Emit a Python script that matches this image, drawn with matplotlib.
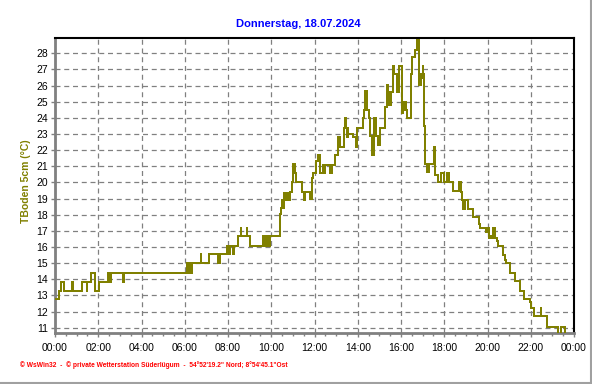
import matplotlib
matplotlib.use("Agg")
import matplotlib.pyplot as plt
from matplotlib.lines import Line2D
from matplotlib.ticker import MultipleLocator

plt.rcParams['font.family'] = ['Liberation Sans', 'DejaVu Sans']

# ---- data (hour of day, soil temperature 5cm, step changes) ----
hours = [0.00, 0.20, 0.30, 0.43, 0.77, 0.85, 1.26, 1.46, 1.50, 1.65, 1.87, 2.05, 2.47, 2.52, 2.58,
         3.16, 3.19, 6.09, 6.14, 6.18, 6.22, 6.26, 6.30, 6.35, 6.74, 6.77, 7.14, 7.55, 7.65, 7.97,
         8.00, 8.03, 8.06, 8.10, 8.22, 8.30, 8.46, 8.58, 8.62, 8.86, 8.90, 9.02, 9.63, 9.66, 9.69,
         9.82, 9.86, 9.88, 9.95, 10.40, 10.45, 10.50, 10.53, 10.57, 10.62, 10.66, 10.70, 10.74,
         10.80, 10.88, 10.94, 11.02, 11.09, 11.14, 11.41, 11.52, 11.55, 11.79, 11.87, 11.92, 12.07,
         12.18, 12.25, 12.41, 12.48, 12.50, 12.72, 12.80, 12.95, 13.07, 13.18, 13.35, 13.40, 13.45,
         13.48, 13.50, 13.52, 13.54, 13.56, 13.79, 13.90, 13.98, 14.23, 14.28, 14.33, 14.44, 14.53,
         14.57, 14.64, 14.75, 14.85, 14.95, 15.03, 15.26, 15.34, 15.38, 15.46, 15.50, 15.54, 15.65,
         15.69, 15.81, 15.93, 16.03, 16.11, 16.15, 16.19, 16.23, 16.26, 16.45, 16.53, 16.65, 16.76,
         16.85, 16.91, 16.97, 17.00, 17.04, 17.06, 17.09, 17.13, 17.20, 17.30, 17.51, 17.55, 17.58,
         17.70, 17.87, 18.00, 18.13, 18.18, 18.20, 18.23, 18.39, 18.70, 18.76, 18.80, 18.85, 18.96,
         19.10, 19.33, 19.60, 19.67, 19.95, 20.00, 20.08, 20.12, 20.20, 20.27, 20.35, 20.42, 20.50,
         20.72, 20.80, 20.85, 21.05, 21.25, 21.48, 21.70, 21.95, 21.99, 22.14, 22.46, 22.49, 22.77,
         23.28, 23.40, 23.58, 24.00]
temps = [12.75, 13.30, 13.85, 13.30, 13.85, 13.30, 13.85, 13.30, 13.85, 14.40, 13.30, 13.85, 14.40, 13.85, 14.40,
         13.85, 14.40, 15.00, 14.40, 15.00, 14.40, 15.00, 14.40, 15.00, 15.55, 15.00, 15.55, 15.00, 15.55, 16.05,
         15.55, 16.05, 15.55, 16.05, 15.55, 16.05, 16.65, 17.15, 16.65, 17.15, 16.65, 16.05, 16.65, 16.05, 16.65,
         16.05, 16.65, 16.05, 16.65, 18.05, 18.40, 18.90, 18.40, 19.35, 18.90, 19.35, 18.90, 19.35,
         18.90, 19.40, 20.00, 21.15, 20.60, 20.05, 19.40, 18.90, 19.40, 19.00, 20.30, 20.60, 21.35,
         21.70, 20.60, 21.05, 20.60, 21.05, 20.60, 21.05, 21.70, 22.80, 22.20, 23.40, 24.00, 23.40,
         22.80, 23.40, 22.80, 23.40, 23.00, 22.80, 22.20, 23.40, 24.00, 24.50, 25.65, 24.50, 24.00,
         22.85, 21.70, 24.00, 22.85, 22.30, 23.35, 24.70, 26.05, 24.80, 25.60, 24.80, 25.60, 27.20,
         26.70, 25.60, 27.20, 24.30, 25.00, 24.50, 25.00, 24.50, 24.00, 26.70, 27.80, 28.20, 28.85,
         26.05, 26.70, 26.50, 27.20, 26.70, 23.50, 21.70, 21.15, 20.65, 21.15, 22.20, 21.15, 20.45,
         20.00, 20.60, 20.00, 20.60, 20.00, 20.60, 20.00, 19.45, 20.00, 19.40, 18.90, 18.35, 18.90,
         18.35, 17.85, 17.40, 17.20, 16.95, 17.20, 16.55, 16.70, 16.55, 17.20, 16.55, 16.35, 16.05,
         15.50, 15.20, 15.00, 14.40, 13.90, 13.30, 12.75, 12.60, 12.20, 11.73, 12.20, 11.73, 11.07,
         10.60, 11.07, 10.60, 10.60]

x_ticks = [0, 2, 4, 6, 8, 10, 12, 14, 16, 18, 20, 22, 24]
x_labels = ["00:00", "02:00", "04:00", "06:00", "08:00", "10:00", "12:00",
            "14:00", "16:00", "18:00", "20:00", "22:00", "00:00"]
y_ticks = list(range(11, 29))

title = "Donnerstag, 18.07.2024"
ylabel = "TBoden 5cm (°C)"
footer = "\u00a9 WsWin32  -  \u00a9 private Wetterstation Süderlügum  -  54°52'19.2\" Nord; 8°54'45.1\"Ost"

# ---- figure ----
W, H = 592, 384
fig = plt.figure(figsize=(W / 100, H / 100), dpi=100)
fig.patch.set_facecolor('white')
ax = fig.add_axes([55 / W, 1 - 333 / H, (574 - 55) / W, (333 - 38) / H])

ax.plot(hours, temps, drawstyle='steps-post', color='#808000', lw=1.1,
        antialiased=False, zorder=3, clip_on=True)

ax.set_xlim(0, 24)
ax.set_ylim(10.67, 28.95)
ax.set_xticks(x_ticks)
ax.set_xticklabels(x_labels)
ax.xaxis.set_minor_locator(MultipleLocator(0.5))
ax.set_yticks(y_ticks)

ax.grid(True, which='major', color='#808080', linestyle=(0, (4, 3)), linewidth=0.9)
ax.set_axisbelow(True)

for side in ['left', 'bottom']:
    ax.spines[side].set_color('#808080')
    ax.spines[side].set_linewidth(2.0)
for side in ['top', 'right']:
    ax.spines[side].set_color('black')
    ax.spines[side].set_linewidth(1.5)

ax.tick_params(axis='both', which='major', labelsize=7.5, color='#808080', width=1,
               length=3, labelcolor='black')
ax.tick_params(axis='x', which='major', pad=4.5)
ax.tick_params(axis='y', which='major', pad=2)
ax.tick_params(axis='x', which='minor', color='#808080', width=1, length=2.5)

fig.text(298 / W, 1 - 24 / H, title, color='#0000FF', fontsize=8, fontweight='bold',
         ha='center', va='center')
fig.text(26 / W, 1 - 181 / H, ylabel, color='#808000', fontsize=7.5, fontweight='bold',
         rotation=90, ha='center', va='center')
fig.text(20 / W, 1 - 365 / H, footer, color='#FF0000', fontsize=4.8, fontweight='bold',
         ha='left', va='center')

# window frame lines (bottom and right)
fig.add_artist(Line2D([0, 591 / W], [1 - 382.5 / H, 1 - 382.5 / H], color='#a0a0a0', lw=1.5,
                      transform=fig.transFigure))
fig.add_artist(Line2D([590.5 / W, 590.5 / W], [1 - 382.5 / H, 1], color='#a0a0a0', lw=1.5,
                      transform=fig.transFigure))

fig.savefig('out.png', dpi=100)
